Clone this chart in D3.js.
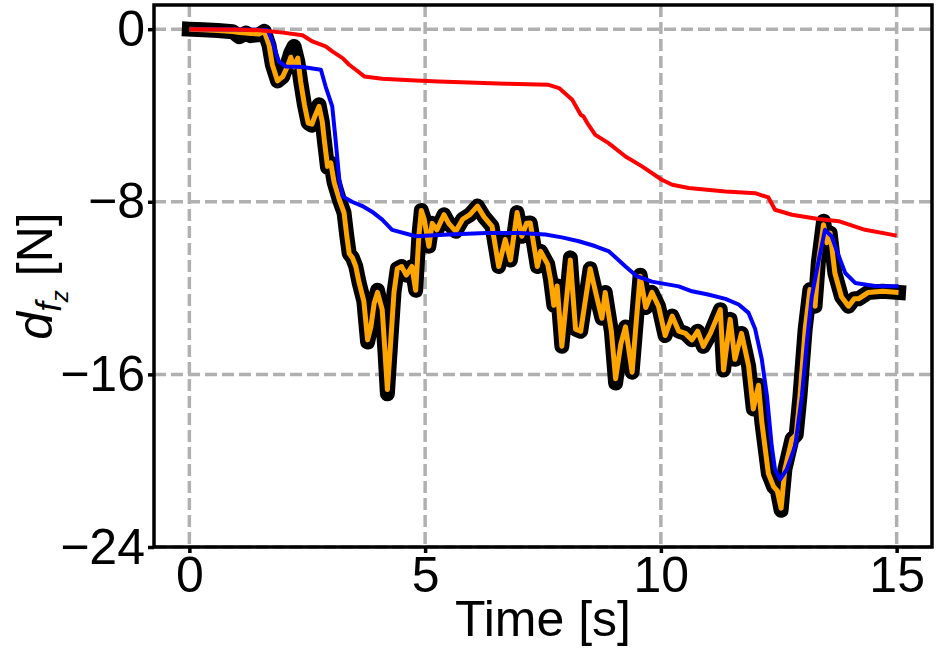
<!DOCTYPE html>
<html>
<head>
<meta charset="utf-8">
<script src="https://cdn.jsdelivr.net/npm/d3@7"></script>
<style>
  body { margin: 0; background: #fff; }
  svg text { font-family: "Liberation Sans", Arial, sans-serif; fill: #000; }
</style>
</head>
<body>
<svg id="chart" width="938" height="653"></svg>
<script>
// measured force (thick black)
var measuredTime = [0, 0.30, 0.60, 0.92, 1.06, 1.20, 1.30, 1.48, 1.59, 1.69, 1.76, 1.87, 1.98, 2.08, 2.15, 2.22, 2.30, 2.36, 2.44, 2.52, 2.60, 2.65, 2.75, 2.82, 2.86, 2.93, 3.00, 3.07, 3.18, 3.28, 3.34, 3.39, 3.46, 3.53, 3.60, 3.70, 3.78, 3.85, 3.92, 3.99, 4.09, 4.15, 4.20, 4.27, 4.34, 4.41, 4.50, 4.60, 4.72, 4.80, 4.87, 4.92, 4.98, 5.08, 5.15, 5.25, 5.40, 5.50, 5.65, 5.80, 5.95, 6.11, 6.25, 6.42, 6.56, 6.70, 6.81, 6.95, 7.05, 7.15, 7.23, 7.38, 7.45, 7.60, 7.66, 7.73, 7.80, 7.90, 8.08, 8.19, 8.30, 8.50, 8.66, 8.75, 8.82, 8.95, 9.04, 9.15, 9.25, 9.39, 9.48, 9.56, 9.68, 9.81, 9.95, 10.09, 10.24, 10.38, 10.52, 10.66, 10.78, 10.90, 11.05, 11.26, 11.33, 11.47, 11.57, 11.71, 11.86, 11.96, 12.07, 12.14, 12.28, 12.39, 12.47, 12.55, 12.63, 12.78, 12.87, 12.95, 13.06, 13.16, 13.27, 13.34, 13.45, 13.52, 13.59, 13.69, 13.83, 13.98, 14.10, 14.19, 14.40, 14.70, 15.04];
var measured = [0, -0.03, -0.06, -0.12, -0.35, -0.18, -0.30, -0.25, -0.10, -0.75, -1.65, -2.40, -2.20, -1.60, -1.10, -0.80, -1.50, -2.42, -3.50, -4.35, -4.45, -4.10, -3.50, -4.30, -5.10, -6.40, -6.20, -7.10, -7.90, -8.50, -9.60, -10.40, -10.60, -11.00, -11.75, -12.60, -14.50, -13.80, -12.70, -12.10, -13.00, -15.00, -16.90, -14.50, -12.20, -11.10, -11.00, -11.40, -11.00, -12.10, -9.50, -8.40, -8.80, -10.06, -9.00, -9.30, -8.60, -9.00, -9.37, -8.80, -8.60, -8.20, -8.70, -9.14, -11.00, -9.75, -10.70, -8.50, -9.60, -9.00, -8.98, -11.00, -10.30, -10.90, -11.60, -12.80, -11.90, -14.70, -10.60, -13.90, -14.00, -11.10, -12.60, -13.40, -12.20, -14.00, -16.40, -14.60, -13.80, -15.90, -13.50, -11.40, -12.90, -12.20, -12.84, -14.20, -13.30, -14.00, -14.10, -14.40, -14.00, -14.70, -14.10, -13.00, -15.80, -13.45, -15.30, -14.10, -15.60, -17.60, -16.50, -18.20, -20.60, -21.20, -21.40, -22.30, -20.40, -19.00, -18.80, -17.00, -13.90, -12.07, -12.84, -10.80, -8.90, -9.90, -9.45, -11.30, -12.40, -12.84, -12.50, -12.50, -12.20, -12.15, -12.20];

// estimate (orange)
var estimateTime = measuredTime;
var estimate = [0, -0.03, -0.06, -0.11, -0.16, -0.18, -0.20, -0.22, -0.10, -0.73, -1.65, -2.40, -2.20, -1.73, -1.30, -1.75, -1.34, -2.42, -3.50, -4.35, -4.40, -4.10, -3.58, -4.30, -5.10, -6.36, -6.20, -7.10, -7.90, -8.50, -9.60, -10.40, -10.60, -11.00, -11.75, -12.60, -14.40, -13.80, -12.70, -12.20, -13.00, -15.00, -16.70, -14.50, -12.20, -11.10, -11.00, -11.40, -11.00, -12.10, -9.50, -8.40, -8.80, -10.06, -9.00, -9.30, -8.60, -9.00, -9.37, -8.80, -8.60, -8.20, -8.70, -9.14, -11.00, -9.75, -10.70, -8.50, -9.60, -9.00, -8.98, -11.00, -10.30, -10.90, -11.60, -12.80, -11.90, -14.70, -10.70, -13.90, -14.00, -11.10, -12.60, -13.40, -12.20, -14.00, -16.20, -14.60, -13.80, -15.90, -13.50, -11.45, -12.90, -12.20, -12.84, -14.20, -13.30, -14.00, -14.10, -14.40, -14.00, -14.70, -14.10, -13.00, -15.80, -13.45, -15.30, -14.10, -15.60, -17.60, -16.50, -18.20, -20.60, -21.20, -21.40, -22.20, -20.40, -19.00, -18.80, -17.00, -13.90, -12.07, -12.84, -10.80, -9.06, -9.90, -9.45, -11.30, -12.40, -12.84, -12.50, -12.50, -12.20, -12.15, -12.20];

// blue
var blueTime = [0, 1.00, 1.66, 1.76, 1.90, 2.05, 2.40, 2.79, 2.89, 3.03, 3.10, 3.18, 3.25, 3.45, 3.67, 3.90, 4.09, 4.30, 4.80, 5.50, 6.30, 7.00, 7.55, 7.90, 8.26, 8.60, 8.90, 9.10, 9.25, 9.49, 9.81, 10.38, 10.66, 11.00, 11.37, 11.65, 11.86, 12.00, 12.14, 12.25, 12.35, 12.42, 12.53, 12.67, 12.85, 12.99, 13.10, 13.20, 13.34, 13.48, 13.62, 13.77, 13.91, 14.12, 14.54, 15.04];
var blue = [0, -0.02, -0.04, -0.57, -1.50, -1.73, -1.75, -1.88, -2.66, -3.58, -5.10, -6.98, -7.75, -8.00, -8.20, -8.50, -8.83, -9.30, -9.60, -9.52, -9.45, -9.45, -9.52, -9.65, -9.83, -10.05, -10.30, -10.70, -11.00, -11.45, -11.70, -11.92, -12.15, -12.30, -12.50, -12.76, -13.15, -13.90, -15.30, -17.00, -19.30, -20.40, -20.87, -20.40, -19.30, -17.00, -14.40, -12.40, -10.80, -9.30, -9.60, -10.50, -11.30, -11.76, -11.90, -11.92];

// red
var redTime = [0, 1.00, 1.50, 1.98, 2.40, 2.61, 2.89, 3.04, 3.25, 3.39, 3.53, 3.71, 4.09, 4.80, 5.29, 6.71, 7.62, 7.84, 8.12, 8.30, 8.36, 8.44, 8.61, 8.89, 9.25, 9.60, 10.02, 10.24, 10.59, 11.37, 12.00, 12.28, 12.42, 12.78, 13.34, 13.77, 14.33, 15.00];
var red = [0, -0.02, -0.05, -0.16, -0.28, -0.57, -0.80, -1.04, -1.34, -1.65, -1.88, -2.19, -2.30, -2.38, -2.43, -2.53, -2.58, -2.73, -3.27, -3.97, -4.05, -4.35, -4.90, -5.28, -5.90, -6.36, -6.98, -7.21, -7.36, -7.52, -7.60, -7.80, -8.37, -8.60, -8.80, -8.90, -9.30, -9.57];

var xTicks = [0, 5, 10, 15];
var yTicks = [0, -8, -16, -24];

(function () {

  var svg = d3.select("#chart");

  // plot box in pixels
  var x0 = 154, x1 = 932, y0 = 5, y1 = 547;

  var x = d3.scaleLinear().domain([-0.75, 15.75]).range([x0, x1]);
  var y = d3.scaleLinear().domain([-24, 1.12]).range([y1, y0]);

  // grid
  var grid = svg.append("g");
  grid.selectAll(".vg")
    .data(xTicks)
    .enter()
    .append("line")
      .attr("x1", function(d){ return x(d) })
      .attr("x2", function(d){ return x(d) })
      .attr("y1", y0)
      .attr("y2", y1)
      .attr("stroke", "#b0b0b0")
      .attr("stroke-width", 3.5)
      .attr("stroke-dasharray", "12,5")
  grid.selectAll(".hg")
    .data(yTicks)
    .enter()
    .append("line")
      .attr("x1", x0)
      .attr("x2", x1)
      .attr("y1", function(d){ return y(d) })
      .attr("y2", function(d){ return y(d) })
      .attr("stroke", "#b0b0b0")
      .attr("stroke-width", 3.5)
      .attr("stroke-dasharray", "12,5")

  function pts(ts, vs) {
    return ts.map(function(t, i){ return [t, vs[i]] })
  }

  var line = d3.line()
    .x(function(d){ return x(d[0]) })
    .y(function(d){ return y(d[1]) })

  function draw(ts, vs, color, width, cap) {
    svg.append("path")
      .datum(pts(ts, vs))
      .attr("d", line)
      .attr("fill", "none")
      .attr("stroke", color)
      .attr("stroke-width", width)
      .attr("stroke-linejoin", "round")
      .attr("stroke-linecap", cap || "butt")
  }

  draw(measuredTime, measured, "#000000", 15, "square");
  draw(estimateTime, estimate, "#FFA500", 5);
  draw(blueTime, blue, "#0000FF", 4);
  draw(redTime, red, "#FF0000", 4);

  // axes
  var xAxis = d3.axisBottom(x).tickValues(xTicks).tickSize(6).tickPadding(3).tickFormat(d3.format("d"));
  var yAxis = d3.axisLeft(y).tickValues(yTicks).tickSize(6).tickPadding(3).tickFormat(d3.format("d"));

  var gx = svg.append("g").attr("transform", "translate(0," + y1 + ")").call(xAxis);
  var gy = svg.append("g").attr("transform", "translate(" + x0 + ",0)").call(yAxis);

  [gx, gy].forEach(function(g){
    g.select(".domain").remove();
    g.selectAll(".tick line").attr("stroke", "#000").attr("stroke-width", 3.5);
    g.selectAll(".tick text")
      .style("font-size", "50px")
      .style("font-family", "'Liberation Sans', Arial, sans-serif")
      .attr("fill", "#000");
  })

  // frame
  svg.append("rect")
    .attr("x", x0)
    .attr("y", y0)
    .attr("width", x1 - x0)
    .attr("height", y1 - y0)
    .attr("fill", "none")
    .attr("stroke", "#000")
    .attr("stroke-width", 3.5)

  // labels
  svg.append("text")
    .attr("x", (x0 + x1) / 2)
    .attr("y", 636)
    .attr("text-anchor", "middle")
    .style("font-size", "50px")
    .text("Time [s]")

  var yl = svg.append("text")
    .attr("transform", "translate(52," + ((y0 + y1) / 2) + ") rotate(-90)")
    .attr("text-anchor", "middle")
    .style("font-size", "50px")
  yl.append("tspan").style("font-style", "italic").text("d")
  yl.append("tspan").style("font-style", "italic").style("font-size", "35px").attr("dy", 9).text("f")
  yl.append("tspan").style("font-style", "italic").style("font-size", "24px").attr("dy", 7).text("z")
  yl.append("tspan").attr("dy", -16).text(" [N]")

})();
</script>
</body>
</html>
